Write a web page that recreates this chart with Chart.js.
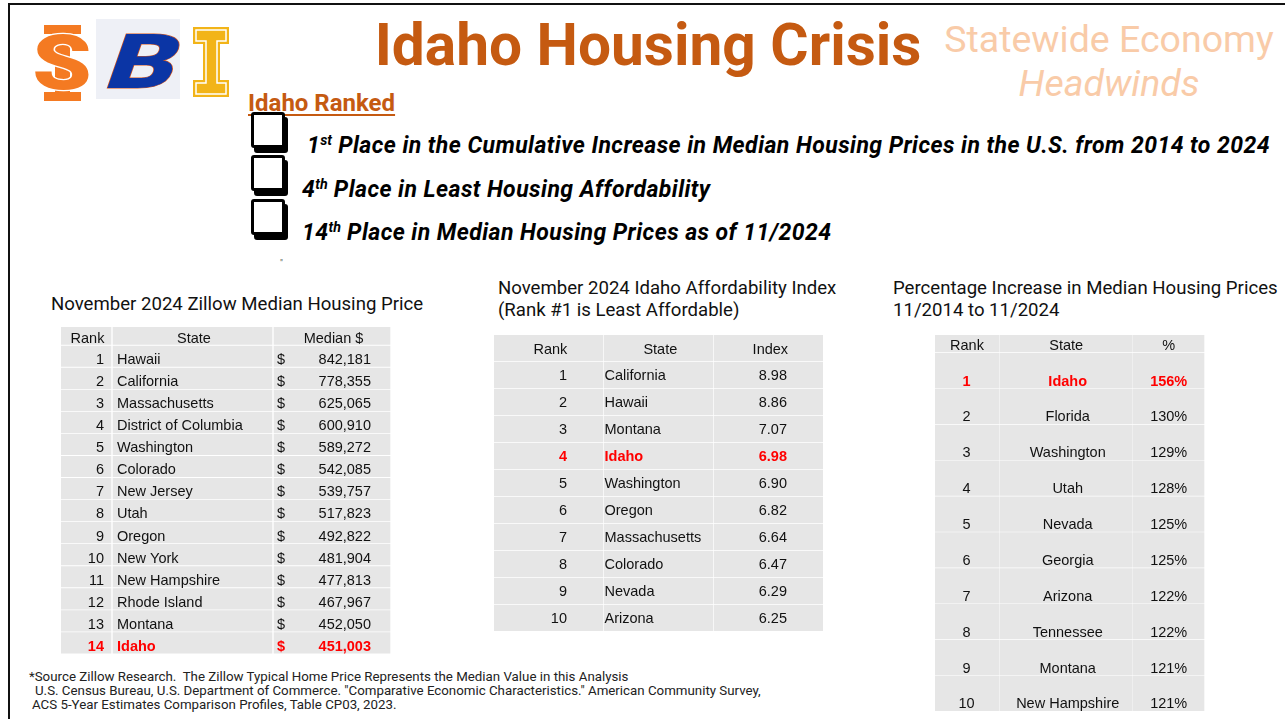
<!DOCTYPE html>
<html>
<head>
<meta charset="utf-8">
<title>Idaho Housing Crisis</title>
<script src="https://cdn.jsdelivr.net/npm/chart.js@4.4.1/dist/chart.umd.min.js"></script>
<style>
    html, body { margin: 0; padding: 0; background: #fff; }
    #slide { position: relative; width: 1285px; height: 719px; overflow: hidden; background: #fff; font-family: Roboto, sans-serif; color: #111; }
    .abs { position: absolute; white-space: pre; line-height: 1; }
    .frame { position: absolute; left: 8px; top: 3px; width: 1300px; height: 760px; border-top: 2px solid #111; border-left: 2px solid #111; }
    .box { position: absolute; left: 251px; width: 28px; height: 30px; border: 3px solid #000; border-radius: 3px; box-shadow: 3px 5px 0 #000; background: #fff; }
    .bullet { position: absolute; white-space: pre; line-height: 1; font: italic 700 23px Roboto; letter-spacing: 0.45px; color: #000; }
    .bullet sup { font-size: 0.62em; line-height: 0; vertical-align: 0.55em; letter-spacing: 0; }
    .tblTitle { position: absolute; white-space: pre; font: 18.6px Roboto; line-height: 22px; color: #111; }
    .note { position: absolute; white-space: pre; font: 13.3px Roboto; line-height: 14.5px; color: #222; }
    .tbl { position: absolute; }
</style>
</head>
<body>
<div id="slide">
    <div class="frame"></div>

    <svg class="abs" style="left:0;top:0" width="240" height="110">
        <!-- ISU -->
        <g fill="#f47a22">
            <rect x="44" y="25" width="37" height="9"/>
            <rect x="44" y="92" width="37" height="9"/>
            <rect x="55" y="25" width="15" height="76"/>
            <text transform="translate(62,89) scale(1.25,1)" font-family="Roboto" font-weight="900" font-size="76" text-anchor="middle" stroke="#fff" stroke-width="2.5" paint-order="stroke">S</text>
        </g>
        <!-- Boise State -->
        <rect x="96" y="19" width="84" height="80" fill="#eef0f6"/>
        <text transform="translate(136,88) scale(1.4,1) skewX(-14)" font-family="Roboto" font-weight="900" font-size="76" text-anchor="middle" fill="#0b35a5" stroke="#d8561c" stroke-width="1" paint-order="stroke">B</text>
        <!-- Idaho -->
        <polygon fill="#f2b418" points="193,27 229,27 229,44 220,44 220,80 229,80 229,97 193,97 193,80 203,80 203,44 193,44"/>
        <polygon fill="none" stroke="#fff" stroke-width="1.5" points="196,30 226,30 226,41 217,41 217,83 226,83 226,94 196,94 196,83 206,83 206,41 196,41"/>
    </svg>

    <div class="abs" style="left:348px;width:600px;top:11px;text-align:center;font:700 58.6px Roboto;color:#c55a11">Idaho Housing Crisis</div>
    <div class="abs" style="left:940px;width:338px;top:17px;text-align:center;font:37.5px Roboto;color:#f9cba8">Statewide Economy</div>
    <div class="abs" style="left:940px;width:338px;top:61px;text-align:center;font:italic 37.5px Roboto;color:#f9cba8">Headwinds</div>

    <div class="abs" style="left:248px;top:88.5px;font:700 24px Roboto;color:#c55a11;text-decoration:underline;text-decoration-thickness:2px;text-underline-offset:3px">Idaho Ranked</div>

    <div class="box" style="top:112px"></div>
    <div class="box" style="top:155px"></div>
    <div class="box" style="top:198.5px"></div>
    <div class="bullet" style="left:307px;top:132px">1<sup>st</sup> Place in the Cumulative Increase in Median Housing Prices in the U.S. from 2014 to 2024</div>
    <div class="bullet" style="left:302px;top:175.5px">4<sup>th</sup> Place in Least Housing Affordability</div>
    <div class="bullet" style="left:302px;top:218.5px">14<sup>th</sup> Place in Median Housing Prices as of 11/2024</div>
    <div class="abs" style="left:280px;top:258px;font:9px Roboto;color:#555">"</div>

    <div class="tblTitle" style="left:51px;top:292.5px">November 2024 Zillow Median Housing Price</div>
    <div class="tblTitle" style="left:498px;top:277px">November 2024 Idaho Affordability Index
(Rank #1 is Least Affordable)</div>
    <div class="tblTitle" style="left:893px;top:277px">Percentage Increase in Median Housing Prices
11/2014 to 11/2024</div>

    <div class="tbl" style="left:61px;top:327px;width:330px;height:327px"><canvas id="priceTable"></canvas></div>
    <div class="tbl" style="left:494px;top:335px;width:329px;height:297px"><canvas id="affordTable"></canvas></div>
    <div class="tbl" style="left:935px;top:335px;width:270px;height:377px"><canvas id="growthTable"></canvas></div>

    <div class="note" style="left:29px;top:670px">*Source Zillow Research.  The Zillow Typical Home Price Represents the Median Value in this Analysis</div>
    <div class="note" style="left:35px;top:684px">U.S. Census Bureau, U.S. Department of Commerce. "Comparative Economic Characteristics." American Community Survey,</div>
    <div class="note" style="left:32px;top:698px">ACS 5-Year Estimates Comparison Profiles, Table CP03, 2023.</div>
</div>

<script>
// Zillow median price, Nov 2024
const priceHeaders = ['Rank', 'State', 'Median $'];
const priceRanks = [1, 2, 3, 4, 5, 6, 7, 8, 9, 10, 11, 12, 13, 14];
const priceStates = ['Hawaii', 'California', 'Massachusetts', 'District of Columbia', 'Washington', 'Colorado',
    'New Jersey', 'Utah', 'Oregon', 'New York', 'New Hampshire', 'Rhode Island', 'Montana', 'Idaho'];
const priceValues = [842181, 778355, 625065, 600910, 589272, 542085, 539757, 517823, 492822, 481904,
    477813, 467967, 452050, 451003];

// Affordability index (rank 1 = least affordable)
const affordHeaders = ['Rank', 'State', 'Index'];
const affordRanks = [1, 2, 3, 4, 5, 6, 7, 8, 9, 10];
const affordStates = ['California', 'Hawaii', 'Montana', 'Idaho', 'Washington', 'Oregon', 'Massachusetts',
    'Colorado', 'Nevada', 'Arizona'];
const affordIndex = [8.98, 8.86, 7.07, 6.98, 6.90, 6.82, 6.64, 6.47, 6.29, 6.25];

// Percentage increase 11/2014 -> 11/2024
const growthHeaders = ['Rank', 'State', '%'];
const growthRanks = [1, 2, 3, 4, 5, 6, 7, 8, 9, 10];
const growthStates = ['Idaho', 'Florida', 'Washington', 'Utah', 'Nevada', 'Georgia', 'Arizona', 'Tennessee',
    'Montana', 'New Hampshire'];
const growthPct = [156, 130, 129, 128, 125, 125, 122, 122, 121, 121];

const highlightState = 'Idaho';

const CELL_GRAY = '#e6e6e6';
const TEXT_COLOR = '#111';
const HOT_COLOR = '#ff0000';
const CELL_FONT = '14.5px "Liberation Sans", Arial, sans-serif';

function buildTable(canvasId, table) {
    const L = table.layout;
    const rowCount = table.states.length;

    // one floating bar per cell, positioned through the x/y scales
    const headerCells = L.cols.map(([a, b]) => ({ x: [a, b], y: L.headerH / 2 }));
    const bodyCells = [];
    for (let r = 0; r < rowCount; r++) {
        const mid = L.rowTop + r * L.rowPitch + L.rowH / 2;
        L.cols.forEach(([a, b]) => bodyCells.push({ x: [a, b], y: mid }));
    }

    const cellText = {
        id: 'cellText',
        afterDatasetsDraw(chart) {
            const { ctx, scales: { x, y } } = chart;
            ctx.save();
            ctx.textBaseline = 'alphabetic';
            ctx.font = CELL_FONT;
            ctx.fillStyle = TEXT_COLOR;
            ctx.textAlign = 'center';
            table.headers.forEach((label, c) => {
                const [a, b] = L.cols[c];
                ctx.fillText(label, x.getPixelForValue((a + b) / 2 + L.headerShift),
                    y.getPixelForValue(L.headerH - L.headerPad));
            });
            for (let r = 0; r < rowCount; r++) {
                const hot = table.states[r] === highlightState;
                const base = L.rowTop + r * L.rowPitch + L.rowH - L.rowPad;
                ctx.font = (hot ? 'bold ' : '') + CELL_FONT;
                ctx.fillStyle = hot ? HOT_COLOR : TEXT_COLOR;
                table.parts.forEach(p => {
                    ctx.textAlign = p.align;
                    ctx.fillText(p.text(r), x.getPixelForValue(p.at), y.getPixelForValue(base));
                });
            }
            ctx.restore();
        }
    };

    new Chart(document.getElementById(canvasId), {
        type: 'bar',
        data: {
            datasets: [
                { data: headerCells, barThickness: L.headerH, stack: 'cells', backgroundColor: CELL_GRAY, borderWidth: 0 },
                { data: bodyCells, barThickness: L.rowH, stack: 'cells', backgroundColor: CELL_GRAY, borderWidth: 0 }
            ]
        },
        options: {
            indexAxis: 'y',
            responsive: true,
            maintainAspectRatio: false,
            animation: false,
            events: [],
            layout: { padding: 0 },
            scales: {
                x: { type: 'linear', display: false, min: 0, max: L.width, stacked: false, offset: false },
                y: { type: 'linear', display: false, min: 0, max: L.height, reverse: true, offset: false }
            },
            plugins: { legend: { display: false }, tooltip: { enabled: false } }
        },
        plugins: [cellText]
    });
}

buildTable('priceTable', {
    headers: priceHeaders,
    states: priceStates,
    layout: { width: 330, height: 327, cols: [[0, 50], [52, 211], [213, 329]],
        headerH: 17.3, headerPad: 1.6, headerShift: 1.5, rowTop: 19, rowPitch: 22.05, rowH: 20.5, rowPad: 2.4 },
    parts: [
        { align: 'right', at: 43, text: r => String(priceRanks[r]) },
        { align: 'left', at: 56, text: r => priceStates[r] },
        { align: 'left', at: 216, text: () => '$' },
        { align: 'right', at: 310, text: r => priceValues[r].toLocaleString('en-US') }
    ]
});

buildTable('affordTable', {
    headers: affordHeaders,
    states: affordStates,
    layout: { width: 329, height: 297, cols: [[0, 108.7], [110, 218.7], [220, 328.7]],
        headerH: 25.7, headerPad: 6.7, headerShift: 2, rowTop: 27, rowPitch: 27, rowH: 25.7, rowPad: 7.7 },
    parts: [
        { align: 'right', at: 73, text: r => String(affordRanks[r]) },
        { align: 'left', at: 110.5, text: r => affordStates[r] },
        { align: 'right', at: 293, text: r => affordIndex[r].toFixed(2) }
    ]
});

buildTable('growthTable', {
    headers: growthHeaders,
    states: growthStates,
    layout: { width: 270, height: 377, cols: [[0, 64], [65, 197.3], [198.3, 269]],
        headerH: 17, headerPad: 2, headerShift: 0, rowTop: 18.3, rowPitch: 35.87, rowH: 34.6, rowPad: 2.3 },
    parts: [
        { align: 'center', at: 31.5, text: r => String(growthRanks[r]) },
        { align: 'center', at: 132.7, text: r => growthStates[r] },
        { align: 'center', at: 233.7, text: r => growthPct[r] + '%' }
    ]
});
</script>
</body>
</html>
